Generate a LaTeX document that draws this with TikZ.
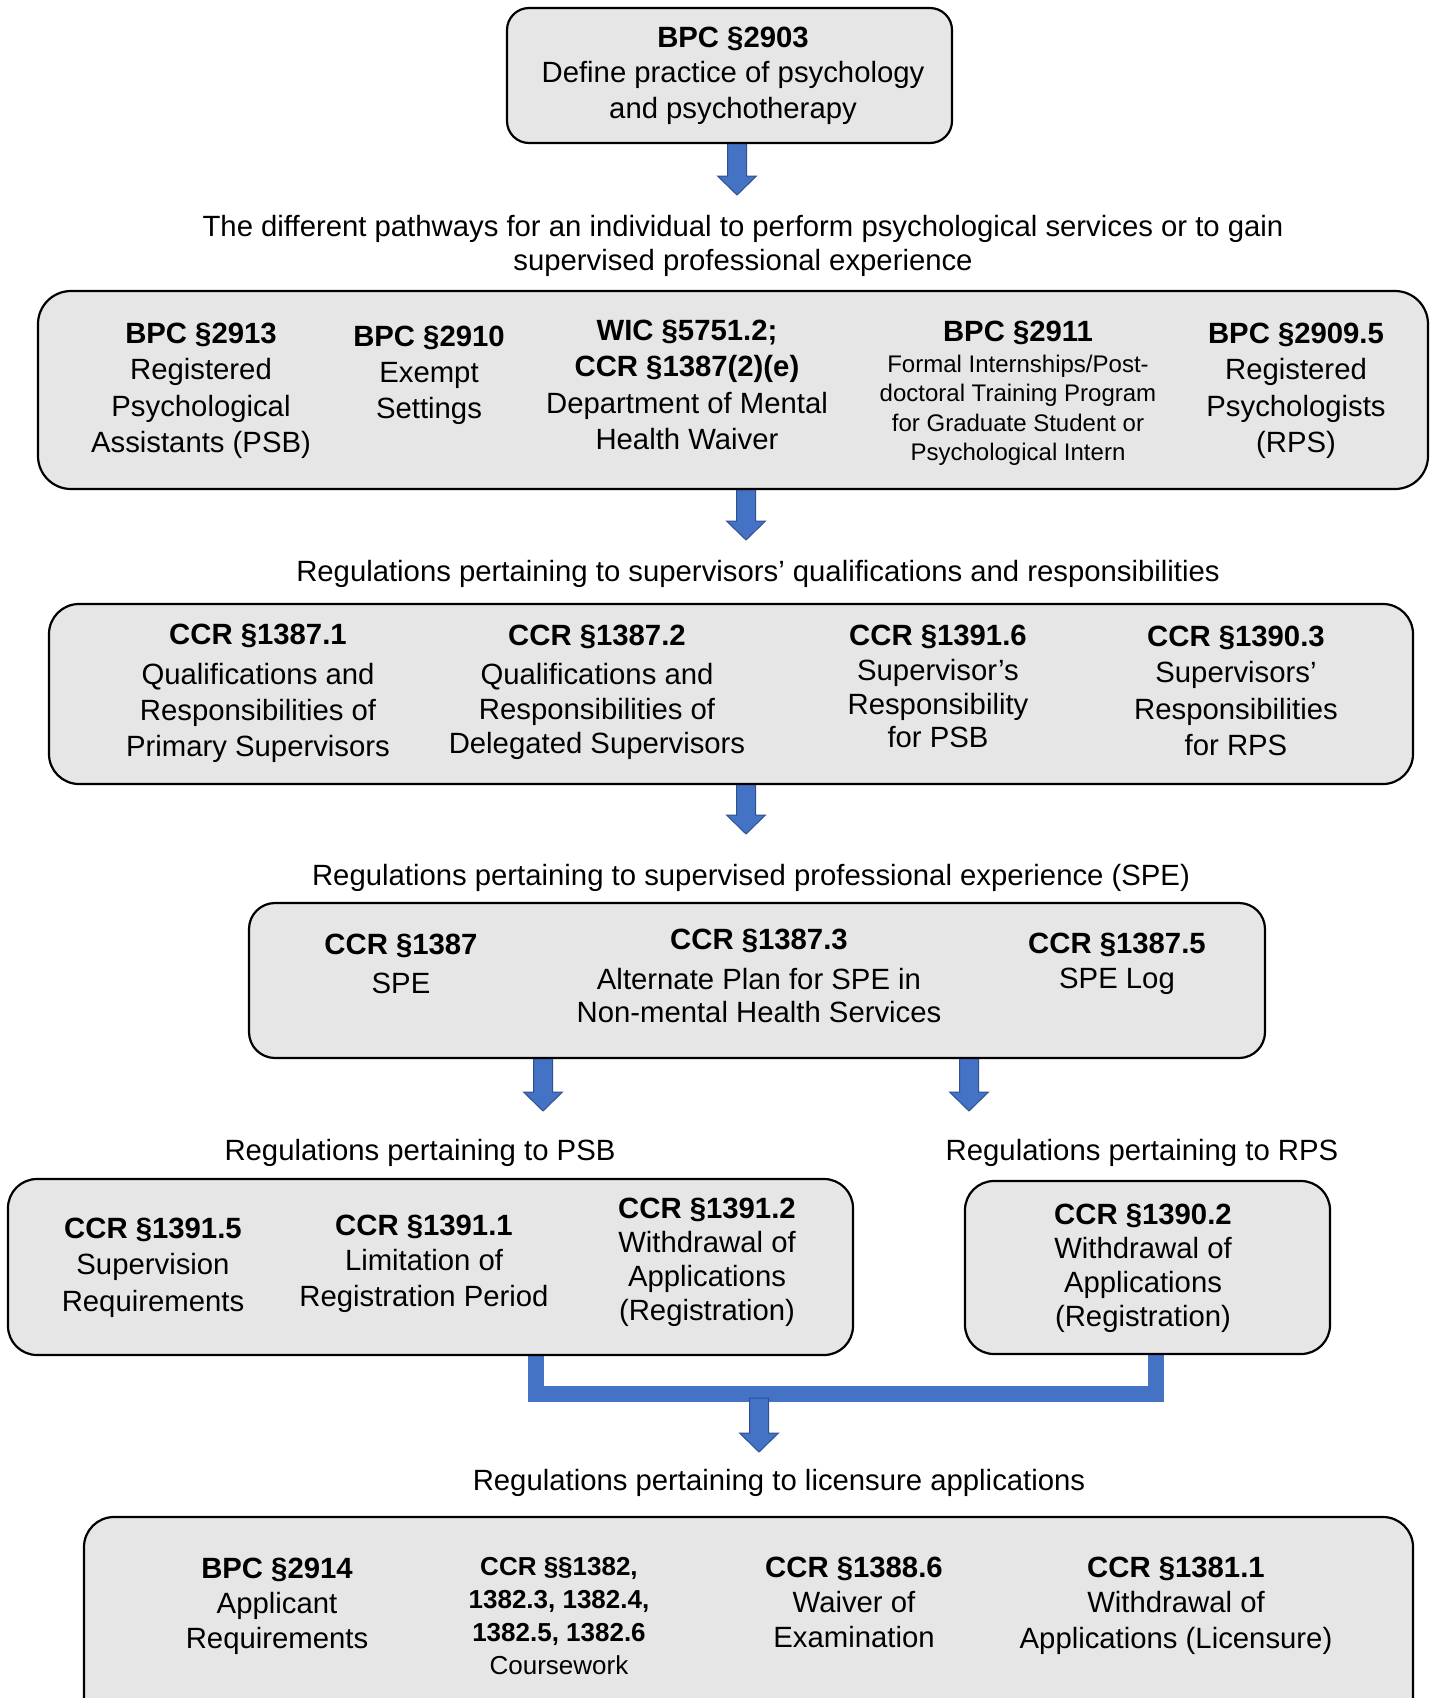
\documentclass[tikz,border=0pt]{standalone}
\usepackage{fontspec}
\setmainfont{Liberation Sans}
\definecolor{boxgray}{RGB}{231,230,230}
\definecolor{arrblue}{RGB}{68,114,196}
\definecolor{arredge}{RGB}{47,82,143}
\newcommand\fsz[2]{\fontsize{#1}{#2}\selectfont}
\newcommand\blockarrow[3]{%
  \filldraw[arrowshape] (#1-9.5,#2) -- (#1+9.5,#2) -- (#1+9.5,#3-19) -- (#1+19.5,#3-19)
    -- (#1,#3) -- (#1-19.5,#3-19) -- (#1-9.5,#3-19) -- cycle;}
\begin{document}
\begin{tikzpicture}[x=1pt,y=-1pt,
  box/.style={draw=black, line width=2.2pt, fill=boxgray, inner sep=0pt, outer sep=0pt},
  col/.style={anchor=north, align=center, inner sep=0pt, outer sep=0pt, yshift=-3pt},
  captext/.style={anchor=north, align=center, inner sep=0pt, outer sep=0pt,
              font=\fsz{29.3}{34}},
  arrowshape/.style={fill=arrblue, draw=arredge, line width=1pt, line join=miter},
  bar/.style={draw=arrblue, line width=16pt, line join=miter}]
\clip (0,0) rectangle (1431,1698);
\fill[white] (0,0) rectangle (1431,1698);

% connectors (drawn first)
\blockarrow{737}{140}{195}
\blockarrow{746}{486}{540}
\blockarrow{746}{781}{834}
\blockarrow{543}{1055}{1111}
\blockarrow{969}{1055}{1111}
\coordinate (j1) at (536,1394);
\coordinate (j2) at (1156,1394);
\draw[bar] (536,1350) -- (j1) -- (j2) -- (1156,1350);
\blockarrow{759}{1398}{1452}

% boxes
\node[box, rounded corners=22pt, minimum width=445pt, minimum height=135pt] (b1) at (729.5,75.5) {};
\node[box, rounded corners=33pt, minimum width=1390pt, minimum height=198pt] (b2) at (733,390) {};
\node[box, rounded corners=30pt, minimum width=1364pt, minimum height=180pt] (b3) at (731,694) {};
\node[box, rounded corners=26pt, minimum width=1016pt, minimum height=155pt] (b4) at (757,980.5) {};
\node[box, rounded corners=29pt, minimum width=845pt, minimum height=176pt] (b5a) at (430.5,1267) {};
\node[box, rounded corners=29pt, minimum width=365pt, minimum height=173pt] (b5b) at (1147.5,1267.5) {};
\node[box, rounded corners=30pt, minimum width=1329pt, minimum height=210pt] (b6) at (748.5,1622) {};

% box 1
\node[col, font=\fsz{29.3}{35.5}] (t1) at (733,24) {\textbf{BPC §2903}\\Define practice of psychology\\and psychotherapy};
% caption 1
\node[captext] (c1) at (743,215) {The different pathways for an individual to perform psychological services or to gain\\supervised professional experience};
% box 2
\node[col, font=\fsz{29.3}{36.3}] (t21) at (201,320) {\textbf{BPC §2913}\\Registered\\Psychological\\Assistants (PSB)};
\node[col, font=\fsz{29.3}{36}] (t22) at (429,323) {\textbf{BPC §2910}\\Exempt\\Settings};
\node[col, font=\fsz{29.3}{36.5}] (t23) at (687,317) {\textbf{WIC §5751.2;}\\\textbf{CCR §1387(2)(e)}\\Department of Mental\\Health Waiver};
\node[col, font=\fsz{29.3}{35}] (t24h) at (1018,318) {\textbf{BPC §2911}};
\node[col, font=\fsz{24}{29.5}] (t24) at (1018,352) {Formal Internships/Post-\\doctoral Training Program\\for Graduate Student or\\Psychological Intern};
\node[col, font=\fsz{29.3}{36.3}] (t25) at (1296,320) {\textbf{BPC §2909.5}\\Registered\\Psychologists\\(RPS)};
% caption 2
\node[captext] (c2) at (758,560) {Regulations pertaining to supervisors’ qualifications and responsibilities};
% box 3
\node[col, font=\fsz{29.3}{36}] (t31) at (258,621) {\textbf{CCR §1387.1}\\[4pt]Qualifications and\\Responsibilities of\\Primary Supervisors};
\node[col, font=\fsz{29.3}{34.5}] (t32) at (597,622) {\textbf{CCR §1387.2}\\[5pt]Qualifications and\\Responsibilities of\\Delegated Supervisors};
\node[col, font=\fsz{29.3}{33.5}] (t33) at (938,622) {\textbf{CCR §1391.6}\\[2pt]Supervisor’s\\Responsibility\\for PSB};
\node[col, font=\fsz{29.3}{36.5}] (t34) at (1236,623) {\textbf{CCR §1390.3}\\Supervisors’\\Responsibilities\\for RPS};
% caption 3
\node[captext] (c3) at (751,864) {Regulations pertaining to supervised professional experience (SPE)};
% box 4
\node[col, font=\fsz{29.3}{35}] (t41) at (401,931) {\textbf{CCR §1387}\\[4pt]SPE};
\node[col, font=\fsz{29.3}{33}] (t42) at (759,926) {\textbf{CCR §1387.3}\\[7pt]Alternate Plan for SPE in\\Non-mental Health Services};
\node[col, font=\fsz{29.3}{35}] (t43) at (1117,930) {\textbf{CCR §1387.5}\\SPE Log};
% captions 4
\node[captext] (c4a) at (420,1139) {Regulations pertaining to PSB};
\node[captext] (c4b) at (1142,1139) {Regulations pertaining to RPS};
% box 5a
\node[col, font=\fsz{29.3}{36.5}] (t51) at (153,1215) {\textbf{CCR §1391.5}\\Supervision\\Requirements};
\node[col, font=\fsz{29.3}{35.5}] (t52) at (424,1212) {\textbf{CCR §1391.1}\\Limitation of\\Registration Period};
\node[col, font=\fsz{29.3}{34}] (t53) at (707,1195) {\textbf{CCR §1391.2}\\Withdrawal of\\Applications\\(Registration)};
% box 5b
\node[col, font=\fsz{29.3}{34}] (t54) at (1143,1201) {\textbf{CCR §1390.2}\\Withdrawal of\\Applications\\(Registration)};
% caption 5
\node[captext] (c5) at (779,1469) {Regulations pertaining to licensure applications};
% box 6
\node[col, font=\fsz{29.3}{35}] (t61) at (277,1555) {\textbf{BPC §2914}\\Applicant\\Requirements};
\node[col, font=\fsz{26}{33}] (t62) at (559,1554) {\textbf{CCR §§1382,}\\\textbf{1382.3, 1382.4,}\\\textbf{1382.5, 1382.6}\\Coursework};
\node[col, font=\fsz{29.3}{35}] (t63) at (854,1554) {\textbf{CCR §1388.6}\\Waiver of\\Examination};
\node[col, font=\fsz{29.3}{35.5}] (t64) at (1176,1554) {\textbf{CCR §1381.1}\\Withdrawal of\\Applications (Licensure)};
\end{tikzpicture}
\end{document}
